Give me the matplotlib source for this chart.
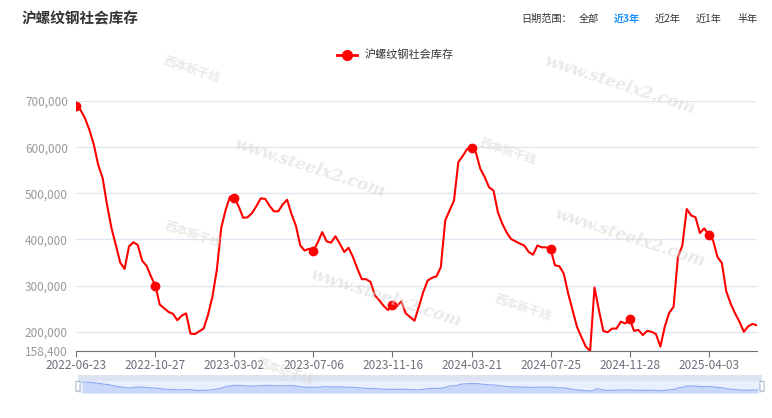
import matplotlib
matplotlib.use("Agg")
import matplotlib.pyplot as plt
from matplotlib.patches import Rectangle, FancyBboxPatch
import pandas as pd

plt.rcParams['font.family'] = ['Noto Sans CJK SC', 'DejaVu Sans']

# weekly social inventory of rebar (tons)
start_date = '2022-06-23'
skipped_week = '2023-10-05'   # holiday week missing from the series
inventory_k = [
    690, 680, 662, 637, 605, 561, 533, 475, 425, 388,
    350, 336, 385, 394, 388, 354, 343, 320, 300, 259,
    251, 243, 239, 225, 235, 240, 196, 195, 201, 207,
    237, 276, 334, 425, 464, 493, 490, 471, 447, 448,
    457, 472, 489, 488, 473, 461, 461, 476, 486, 455,
    430, 387, 376, 380, 376, 394, 416, 396, 393, 407,
    391, 373, 382, 362, 337, 314, 314, 308, 279, 268,
    256, 247, 259, 255, 266, 240, 232, 224, 254, 286,
    311, 317, 320, 340, 441, 463, 484, 568, 581, 596,
    598, 588, 553, 535, 513, 506, 459, 434, 415, 401,
    396, 391, 387, 373, 367, 387, 383, 383, 379, 344,
    342, 326, 283, 247, 211, 189, 168, 158.4, 296, 247,
    202, 199, 207, 207, 222, 218, 228, 202, 204, 193,
    202, 200, 195, 168, 211, 241, 254, 362, 387, 466,
    452, 448, 414, 424, 410, 398, 362, 349, 288, 261,
    240, 222, 200, 212, 217, 214,
]
inventory = [v * 1000 for v in inventory_k]
all_weeks = pd.date_range(start_date, periods=len(inventory) + 1, freq='7D').strftime('%Y-%m-%d').tolist()
dates = [d for d in all_weeks if d != skipped_week][:len(inventory)]
y_ticks = [158400, 200000, 300000, 400000, 500000, 600000, 700000]
range_buttons = ['全部', '近3年', '近2年', '近1年', '半年']
series_name = '沪螺纹钢社会库存'

W, H = 772, 418
fig = plt.figure(figsize=(W / 100, H / 100), dpi=100)
x = list(range(len(inventory)))

# main plot
ax = fig.add_axes([76.3 / W, 1 - 351 / H, (757 - 76.3) / W, (351 - 101) / H])
ax.plot(x, inventory, color='#ff0000', lw=1.5, marker='o', markersize=6,
        markevery=18, zorder=3, solid_joinstyle='round')
ax.set_xlim(0, len(inventory) - 1)
ax.set_ylim(y_ticks[0], y_ticks[-1])
ax.set_yticks(y_ticks)
ax.set_yticklabels([f'{v:,}' for v in y_ticks])
tick_idx = list(range(0, len(inventory), 18))
ax.set_xticks(tick_idx)
ax.set_xticklabels([dates[i] for i in tick_idx])
for v in y_ticks[1:]:
    ax.axhline(v, color='#e0e6f1', lw=1, zorder=1)
for s in ['top', 'right', 'left']:
    ax.spines[s].set_visible(False)
ax.spines['bottom'].set_color('#6e7079')
ax.tick_params(axis='y', length=0, pad=6, labelsize=8.5, labelcolor='#9a9a9a')
ax.tick_params(axis='x', length=4, color='#6e7079', pad=2, labelsize=8.5, labelcolor='#6e7079')

# watermarks
wm = dict(color='#d4d4d4', alpha=0.5, ha='center', va='center', zorder=0,
          transform=fig.transFigure)
for cx, cy in [(310, 168), (620, 85), (386, 298), (630, 238)]:
    fig.text(cx / W, 1 - cy / H, 'www.steelx2.com', fontsize=12, rotation=-18,
             family='DejaVu Serif', style='italic', fontweight='bold', **wm)
for cx, cy in [(192, 70), (508, 152), (193, 235), (523, 308), (285, 372)]:
    fig.text(cx / W, 1 - cy / H, '西本新干线', fontsize=8.5, rotation=-18,
             fontweight='bold', **wm)

# title and range buttons
fig.text(22 / W, 1 - 18 / H, series_name, fontsize=10.5, fontweight='bold',
         color='#333333', va='center')
fig.text(521 / W, 1 - 19 / H, '日期范围：', fontsize=7.3, color='#333333', va='center')
for name, px in zip(range_buttons, [579, 614, 655, 696, 737]):
    fig.text(px / W, 1 - 19 / H, name, fontsize=7.3, va='center',
             color='#1e90ff' if name == '近3年' else '#333333',
             fontweight='bold' if name == '近3年' else 'normal')

# legend
fig.add_artist(plt.Line2D([337 / W, 357 / W], [1 - 55 / H, 1 - 55 / H], color='#ff0000',
                          lw=2, transform=fig.transFigure))
fig.add_artist(plt.Line2D([347 / W], [1 - 55 / H], color='#ff0000', marker='o',
                          markersize=7, transform=fig.transFigure))
fig.text(365 / W, 1 - 55 / H, series_name, fontsize=8, color='#333333', va='center')

# data zoom slider
sx = fig.add_axes([78 / W, 1 - 393 / H, (762 - 78) / W, 18 / H])
sx.set_xlim(-1, len(inventory))
sx.set_ylim(40300, 1103000)
sx.axis('off')
sx.add_patch(Rectangle((0, 0), 1, 1, transform=sx.transAxes, color='#e9effd', zorder=0))
sx.add_patch(Rectangle((0, 13 / 18), 1, 5 / 18, transform=sx.transAxes, color='#dde3f1', zorder=1))
sx.fill_between(x, inventory, 40300, color='#c9d8fa', zorder=2, lw=0)
sx.plot(x, inventory, color='#8eaaf5', lw=0.8, zorder=3)
for hx in [0.0, 1.0]:
    sx.add_patch(FancyBboxPatch((hx - 0.003, 0.1), 0.006, 0.55, transform=sx.transAxes,
                                boxstyle='round,pad=0,rounding_size=0.002',
                                fc='white', ec='#acb8d1', lw=0.8, zorder=4, clip_on=False))

fig.savefig('out.png', dpi=100)
